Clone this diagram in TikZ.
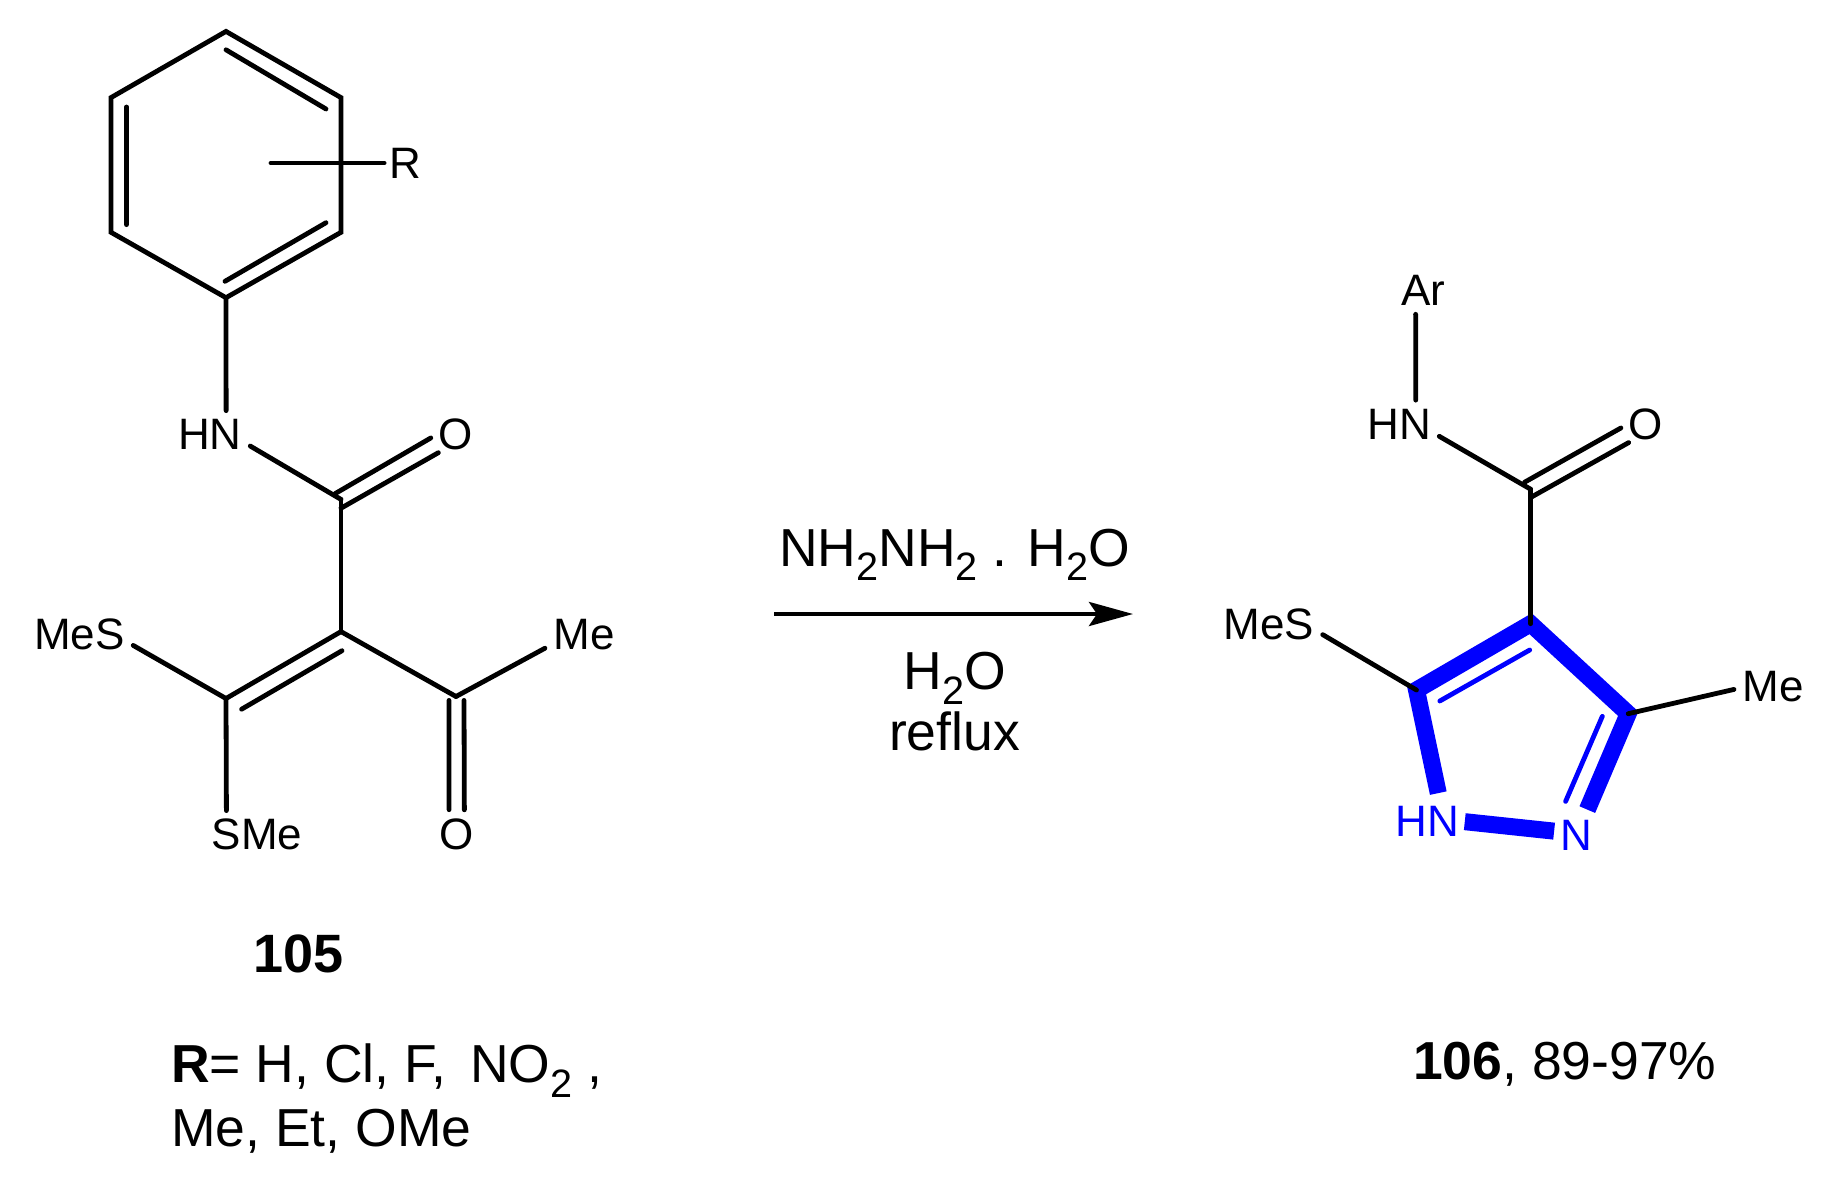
\documentclass[tikz,border=0pt]{standalone}
\usepackage{fontspec}
\setmainfont{Liberation Sans}
\usetikzlibrary{arrows.meta}
\newcommand{\subtwo}{\raisebox{-.28em}{\scalebox{.74}{2}}}
\begin{document}
\begin{tikzpicture}[x=1pt,y=-1pt]

    \tikzset{
      atom/.style={
        inner sep=0pt,
        outer sep=8.5pt,
        text height=30.8pt,
        text depth=0pt,
        font=\fontsize{44}{44}\selectfont,
      },
      oxygen/.style={
        atom,
        circle,
        outer sep=2.5pt,
      },
      ringatom/.style={
        atom,
        color={pureblue},
        outer xsep=6pt,
        outer ysep=11pt,
      },
      caption/.style={
        inner sep=0pt,
        font=\fontsize{53.5}{53.5}\selectfont,
      },
      bond/.style={
        draw,
        line width=4.8pt,
        line cap=round,
      },
      ringbond/.style={
        draw,
        color={pureblue},
        line width=17pt,
      },
      innerbond/.style={
        bond,
        color={pureblue},
      },
    }
    \definecolor{pureblue}{RGB}{0,0,255}
    \useasboundingbox (0,0) rectangle (1832,1179);

    % 105
    \coordinate (a1) at (226,31.4);
    \coordinate (a2) at (341,97.6);
    \coordinate (a3) at (341,232.3);
    \coordinate (a4) at (226,297.7);
    \coordinate (a5) at (111,232.3);
    \coordinate (a6) at (111,97.6);
    \coordinate (rfoot) at (271,163);
    \coordinate (amide) at (341,499.4);
    \coordinate (alkA) at (341,631.6);
    \coordinate (alkB) at (226,698.5);
    \coordinate (acyl) at (456,696.5);
    \node[atom,outer sep=5pt] (rA) at (405,163) {R};
    \node[atom] (hnA) at (210,434.5) {HN};
    \node[oxygen] (oA) at (456,434.4) {O};
    \node[atom] (mesA) at (79.5,634) {MeS};
    \node[atom] (smeA) at (257,834.5) {SMe};
    \node[atom] (meA) at (584,634) {Me};
    \node[oxygen] (oB) at (456.5,834) {O};
    \draw[bond,line join=miter] (a1) -- (a2) -- (a3) -- (a4) -- (a5) -- (a6) -- cycle;
    \draw[bond] (226,49.8) -- (326,109);
    \draw[bond] (126.5,107) -- (126.5,224.6);
    \draw[bond] (225,281.3) -- (326,222.7);
    \draw[bond] (rfoot) -- (rA.west);
    \draw[bond] (a4) -- (hnA.56.5);
    \draw[bond] (hnA.-16) -- (amide);
    \draw[bond] (335,493.7) -- (oA.188.8);
    \draw[bond] (341,508.2) -- (oA.226.6);
    \draw[bond] (amide) -- (alkA);
    \draw[bond] (alkA) -- (alkB);
    \draw[bond] (342,650.7) -- (241.6,709.2);
    \draw[bond] (mesA.-12.2) -- (alkB);
    \draw[bond] (alkB) -- (smeA.142.4);
    \draw[bond] (alkA) -- (acyl);
    \draw[bond] (acyl) -- (meA.200.2);
    \draw[bond] (449,700.4) -- (oB.107.6);
    \draw[bond] (464,700.4) -- (oB.72.4);
    \node[caption,font=\fontsize{54}{54}\selectfont\bfseries,anchor=base] (nameA) at (298.5,972.8) {105};
    \node[caption,anchor=base west] (listA) at (171,1082.5) {\textbf{R}= H, Cl, F,\hspace{9pt} NO\subtwo\ ,};
    \node[caption,anchor=base west] (listB) at (171,1146.7) {Me, Et, OMe};

    % arrow
    \coordinate (start) at (774,614);
    \coordinate (finish) at (1133,614);
    \draw[line width=4.5pt,-{Stealth[length=44pt,width=24pt,inset=8pt]}] (start) -- (finish);
    \node[caption,anchor=base] (above) at (954.5,566) {NH\subtwo NH\subtwo\ . H\subtwo O};
    \node[caption,anchor=base] (below) at (954.5,689.5) {H\subtwo O};
    \node[caption,anchor=base] (heat) at (954.5,750) {reflux};

    % 106
    \coordinate (b1) at (1530.6,623.7);
    \coordinate (b2) at (1416.5,690);
    \coordinate (b3) at (1628.2,713.7);
    \coordinate (amideB) at (1530.6,489.2);
    \node[atom] (arC) at (1423.4,290.4) {Ar};
    \node[atom] (hnC) at (1399,424) {HN};
    \node[oxygen] (oC) at (1646,424) {O};
    \node[atom] (mesC) at (1269,624.2) {MeS};
    \node[atom] (meC) at (1773,686) {Me};
    \node[ringatom,outer ysep=12.5pt] (hnD) at (1427,821) {HN};
    \node[ringatom,outer ysep=10pt] (nD) at (1576,835) {N};
    \draw[ringbond] (hnD.68.8) -- (b2) -- (b1) -- (b3) -- (nD.66.5);
    \draw[ringbond] (hnD.-1.7) -- (nD.170);
    \draw[innerbond] (1529.7,650) -- (1439.8,701);
    \draw[innerbond] (1602.3,716.4) -- (1565.6,801.4);
    \draw[bond] (arC.252.1) -- (hnC.55);
    \draw[bond] (hnC.-17.5) -- (amideB);
    \draw[bond] (1524.6,482.2) -- (oC.189.8);
    \draw[bond] (1530.6,497.5) -- (oC.227.3);
    \draw[bond] (amideB) -- (b1);
    \draw[bond] (mesC.-11.4) -- (b2);
    \draw[bond] (meC.185) -- (b3);
    \node[caption,anchor=base west] (nameB) at (1413,1079) {\textbf{106}, 89-97\%};

\end{tikzpicture}
\end{document}
